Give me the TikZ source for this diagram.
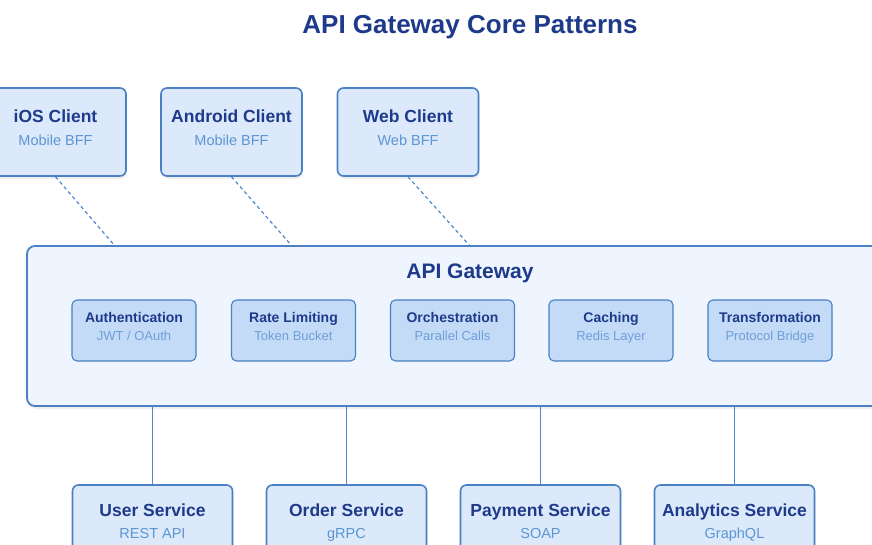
\documentclass[tikz,border=0pt]{standalone}
\usepackage{fontspec}
\setmainfont{Liberation Sans}
\usetikzlibrary{shadows}
\definecolor{navy}{HTML}{1E3A8A}
\definecolor{bord}{HTML}{4A80C4}
\definecolor{cfill}{HTML}{DCE9FB}
\definecolor{gfill}{HTML}{EEF5FE}
\definecolor{ifill}{HTML}{C3DBF7}
\definecolor{subc}{HTML}{5B96D2}
\definecolor{isubc}{HTML}{6E9FD8}
\definecolor{linkc}{HTML}{4F88C8}
\tikzset{
  shd/.style={drop shadow={shadow xshift=1pt,shadow yshift=-3pt,opacity=0.10,fill=black!60}},
  clientbox/.style={draw=bord,fill=cfill,line width=1.6pt,rounded corners=6pt,minimum width=141pt,minimum height=88pt,inner sep=0pt,shd},
  svcbox/.style={draw=bord,fill=cfill,line width=1.6pt,rounded corners=6pt,minimum width=160pt,minimum height=88pt,inner sep=0pt,shd},
  gwbox/.style={draw=bord,fill=gfill,line width=1.8pt,rounded corners=8pt,minimum width=886pt,minimum height=160pt,inner sep=0pt,shd},
  innerbox/.style={draw=bord,fill=ifill,line width=1.1pt,rounded corners=5pt,minimum width=124pt,minimum height=61pt,inner sep=0pt},
  bigttl/.style={font=\fontsize{17.5}{20}\selectfont\bfseries,text=navy,inner sep=0pt,anchor=base},
  bigsub/.style={font=\fontsize{14.5}{17}\selectfont,text=subc,inner sep=0pt,anchor=base},
  smttl/.style={font=\fontsize{14}{16}\selectfont\bfseries,text=navy,inner sep=0pt,anchor=base},
  smsub/.style={font=\fontsize{13}{15}\selectfont,text=isubc,inner sep=0pt,anchor=base},
  dashlink/.style={draw=linkc,line width=1.2pt,dash pattern=on 3.5pt off 3pt},
  solidlink/.style={draw=linkc,line width=1.4pt}
}
\begin{document}
\begin{tikzpicture}[x=1pt,y=-1pt]
\useasboundingbox (0,0) rectangle (872,545);
\clip (0,0) rectangle (872,545);
\fill[white] (0,0) rectangle (872,545);

\node[font=\fontsize{26}{30}\selectfont\bfseries,text=navy,inner sep=0pt,anchor=base] (title) at (470,34) {API Gateway Core Patterns};

% gateway
\node[gwbox] (gw) at (470,326) {};
\node[font=\fontsize{21}{24}\selectfont\bfseries,text=navy,inner sep=0pt,anchor=base] (gwT) at (470,278) {API Gateway};

% clients
\node[clientbox] (ios) at (55.5,132) {};
\node[clientbox] (android) at (231.5,132) {};
\node[clientbox] (web) at (408,132) {};
\node[bigttl] (iosT) at (55.5,123) {iOS Client};
\node[bigsub] (iosS) at (55.5,145.5) {Mobile BFF};
\node[bigttl] (androidT) at (231.5,123) {Android Client};
\node[bigsub] (androidS) at (231.5,145.5) {Mobile BFF};
\node[bigttl] (webT) at (408,123) {Web Client};
\node[bigsub] (webS) at (408,145.5) {Web BFF};

% client links
\coordinate (gIos) at (115,246);
\coordinate (gAnd) at (292,246);
\coordinate (gWeb) at (470,246);
\draw[dashlink] (ios.south) -- (gIos);
\draw[dashlink] (android.south) -- (gAnd);
\draw[dashlink] (web.south) -- (gWeb);

% inner modules
\foreach \n/\x/\t/\s in {auth/134/Authentication/{JWT / OAuth}, rate/293.5/Rate Limiting/Token Bucket, orch/452.5/Orchestration/Parallel Calls, cache/611/Caching/Redis Layer, trans/770/Transformation/Protocol Bridge}{
  \node[innerbox] (\n) at (\x,330.5) {};
  \node[smttl] (\n T) at (\x,322.5) {\t};
  \node[smsub] (\n S) at (\x,340) {\s};
}

% services
\node[svcbox] (user) at (152.5,529) {};
\node[svcbox] (order) at (346.5,529) {};
\node[svcbox] (pay) at (540.5,529) {};
\node[svcbox] (ana) at (734.5,529) {};
\node[bigttl] (userT) at (152.5,516.5) {User Service};
\node[bigsub] (userS) at (152.5,538) {REST API};
\node[bigttl] (orderT) at (346.5,516.5) {Order Service};
\node[bigsub] (orderS) at (346.5,538) {gRPC};
\node[bigttl] (payT) at (540.5,516.5) {Payment Service};
\node[bigsub] (payS) at (540.5,538) {SOAP};
\node[bigttl] (anaT) at (734.5,516.5) {Analytics Service};
\node[bigsub] (anaS) at (734.5,538) {GraphQL};

\foreach \s in {user,order,pay,ana}{
  \draw[solidlink] (gw.south -| \s.north) -- (\s.north);
}
\end{tikzpicture}
\end{document}
